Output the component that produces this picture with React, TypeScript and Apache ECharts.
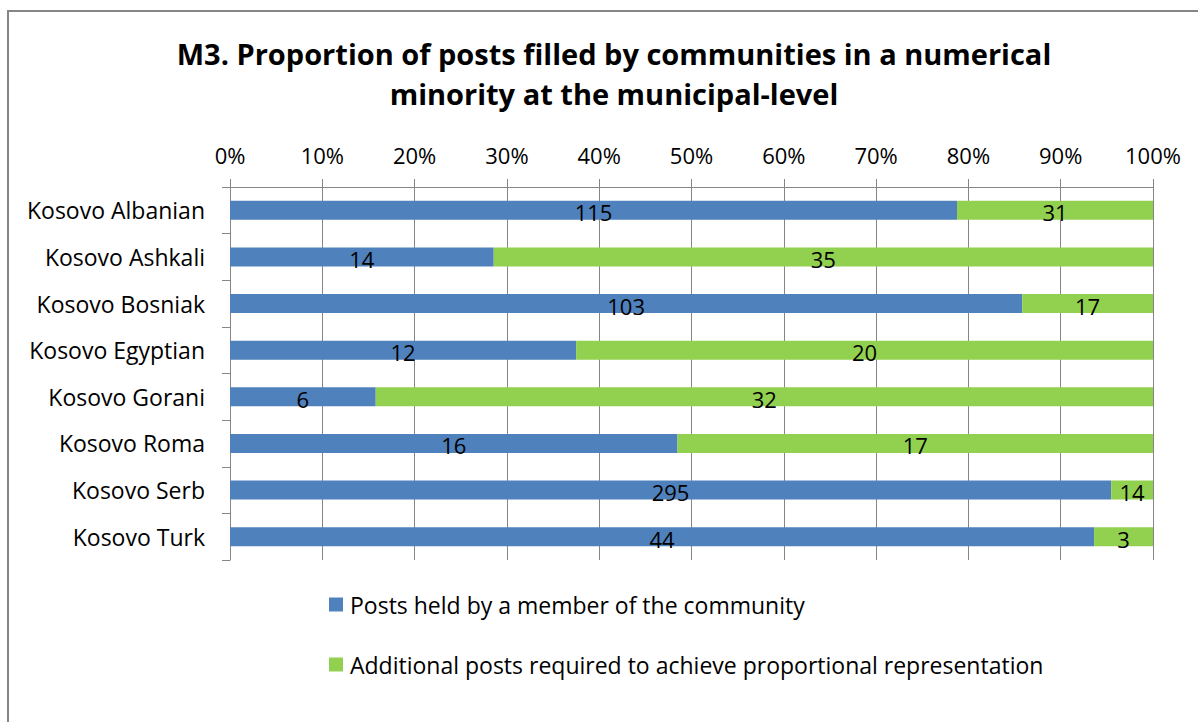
import React, { useEffect, useRef } from "react";
import * as echarts from "echarts";

const categories = [
  "Kosovo Albanian",
  "Kosovo Ashkali",
  "Kosovo Bosniak",
  "Kosovo Egyptian",
  "Kosovo Gorani",
  "Kosovo Roma",
  "Kosovo Serb",
  "Kosovo Turk",
];
const heldPosts = [115, 14, 103, 12, 6, 16, 295, 44];
const additionalPosts = [31, 35, 17, 20, 32, 17, 14, 3];
const seriesNames = [
  "Posts held by a member of the community",
  "Additional posts required to achieve proportional representation",
];
const titleText =
  "M3. Proportion of posts filled by communities in a numerical\nminority at the municipal-level";

const FONT = "'Open Sans', sans-serif";

export default function App() {
  const ref = useRef<HTMLDivElement>(null);
  useEffect(() => {
    if (!ref.current) return;
    const chart = echarts.init(ref.current, null, { renderer: "svg" });
    const totals = heldPosts.map((v, i) => v + additionalPosts[i]);
    const mk = (arr: number[]) =>
      arr.map((v, i) => ({ value: (v / totals[i]) * 100, raw: v }));
    const gray = "#868686";
    const lbl = {
      show: true,
      position: "inside",
      offset: [0, 2],
      color: "#000",
      fontSize: 22,
      fontFamily: FONT,
      formatter: (p: any) => String(p.data.raw),
    };
    chart.setOption({
      animation: false,
      backgroundColor: "#ffffff",
      textStyle: { fontFamily: FONT },
      title: {
        text: titleText,
        left: 609,
        top: 28,
        textAlign: "center",
        textStyle: {
          fontFamily: FONT,
          fontSize: 29,
          fontWeight: "bold",
          color: "#000",
          lineHeight: 40,
        },
      },
      graphic: [
        {
          type: "line",
          shape: { x1: 7, y1: 11, x2: 1198, y2: 11 },
          style: { stroke: gray, lineWidth: 2 },
        },
        {
          type: "line",
          shape: { x1: 8, y1: 11, x2: 8, y2: 722 },
          style: { stroke: gray, lineWidth: 2 },
        },
      ],
      grid: { left: 230, right: 45, top: 187, height: 373, containLabel: false },
      xAxis: {
        type: "value",
        position: "top",
        min: 0,
        max: 100,
        interval: 10,
        axisLine: { show: true, lineStyle: { color: gray, width: 1 } },
        axisTick: { show: true, length: 8, lineStyle: { color: gray } },
        splitLine: { show: true, lineStyle: { color: gray, width: 1 } },
        axisLabel: {
          formatter: (v: number) => v + "%",
          fontSize: 22,
          color: "#000",
          fontFamily: FONT,
          margin: 21,
        },
      },
      yAxis: {
        type: "category",
        data: categories,
        inverse: true,
        axisLine: { show: true, lineStyle: { color: gray, width: 1 } },
        axisTick: { show: true, length: 8, lineStyle: { color: gray } },
        axisLabel: {
          fontSize: 23,
          color: "#000",
          fontFamily: FONT,
          margin: 25,
        },
      },
      legend: {
        orient: "vertical",
        left: 324,
        top: 588,
        itemGap: 37,
        itemWidth: 14,
        itemHeight: 14,
        icon: "rect",
        textStyle: { fontSize: 23, color: "#000", fontFamily: FONT, padding: [0, 0, 0, 2] },
        data: seriesNames,
      },
      series: [
        {
          name: seriesNames[0],
          type: "bar",
          stack: "total",
          barWidth: 19,
          itemStyle: { color: "#4F81BD" },
          label: lbl,
          data: mk(heldPosts),
        },
        {
          name: seriesNames[1],
          type: "bar",
          stack: "total",
          barWidth: 19,
          itemStyle: { color: "#92D050" },
          label: lbl,
          data: mk(additionalPosts),
        },
      ],
    });
    return () => chart.dispose();
  }, []);
  return (
    <div
      ref={ref}
      style={{ position: "fixed", left: 0, top: 0, width: 1198, height: 722 }}
    />
  );
}
